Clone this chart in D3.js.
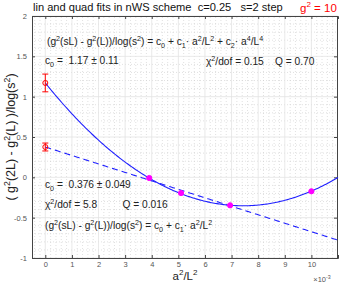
<!DOCTYPE html>
<html>
<head>
<meta charset="utf-8">
<script src="https://cdn.jsdelivr.net/npm/d3@7"></script>
<style>
  body { margin: 0; background: #fff; }
  text { font-family: "Liberation Sans", Arial, sans-serif; white-space: pre; }
</style>
</head>
<body>
<script>
// a^2/L^2 (x 1e-3) for L = 16, 14, 12, 10
const xData = [3.906, 5.102, 6.944, 10.0];
const yData = [-0.008, -0.195, -0.347, -0.173];
const yErr = [0.012, 0.014, 0.014, 0.016];

// extrapolated c0 values at a^2/L^2 = 0
const c0Quad = 1.17, c0QuadErr = 0.11;
const c0Lin = 0.376, c0LinErr = 0.049;

// fit coefficients (x in units of 1e-3)
const quadCoef = [1.17, -0.4098, 0.02757];
const linCoef = [0.376, -0.105];

const xTicks = [0, 1, 2, 3, 4, 5, 6, 7, 8, 9, 10];
const yTicks = [-1, -0.5, 0, 0.5, 1, 1.5, 2];

const W = 339, H = 284;
const svg = d3.select("body").append("svg").attr("width", W).attr("height", H);

const x = d3.scaleLinear().domain([-0.5, 11]).range([32, 338]);
const y = d3.scaleLinear().domain([-1, 2]).range([258, 16]);

// minor grid
const g = svg.append("g");
g.selectAll(".mx").data(d3.range(-0.4, 11.0, 0.2).filter(v => Math.abs(v - Math.round(v)) > 0.01))
  .enter().append("line")
  .attr("x1", d => x(d)).attr("x2", d => x(d)).attr("y1", y(-1)).attr("y2", y(2))
  .attr("stroke", "#ccc").attr("stroke-width", 0.6).attr("stroke-dasharray", "1,2");
g.selectAll(".my").data(d3.range(-0.9, 2.0, 0.1).filter(v => Math.abs(v * 2 - Math.round(v * 2)) > 0.01))
  .enter().append("line")
  .attr("x1", x(-0.5)).attr("x2", x(11)).attr("y1", d => y(d)).attr("y2", d => y(d))
  .attr("stroke", "#ccc").attr("stroke-width", 0.6).attr("stroke-dasharray", "1,2");
// major grid
g.selectAll(".gx").data(xTicks).enter().append("line")
  .attr("x1", d => x(d)).attr("x2", d => x(d)).attr("y1", y(-1)).attr("y2", y(2))
  .attr("stroke", "#e3e3e3").attr("stroke-width", 0.8);
g.selectAll(".gy").data(yTicks).enter().append("line")
  .attr("x1", x(-0.5)).attr("x2", x(11)).attr("y1", d => y(d)).attr("y2", d => y(d))
  .attr("stroke", "#e3e3e3").attr("stroke-width", 0.8);

// axes
const axFont = g => g.selectAll("text").attr("font-size", 7.5).attr("fill", "#555");
svg.append("g").attr("transform", `translate(0,${y(-1)})`)
  .call(d3.axisBottom(x).tickValues(xTicks).tickSize(-3).tickPadding(4).tickFormat(d3.format("d")))
  .call(axFont).call(s => s.select(".domain").attr("stroke", "#444"))
  .call(s => s.selectAll(".tick line").attr("stroke", "#444"));
svg.append("g").attr("transform", `translate(0,${y(2)})`)
  .call(d3.axisTop(x).tickValues(xTicks).tickSize(-3).tickFormat(""))
  .call(s => s.select(".domain").attr("stroke", "#444"))
  .call(s => s.selectAll(".tick line").attr("stroke", "#444"));
svg.append("g").attr("transform", `translate(${x(-0.5)},0)`)
  .call(d3.axisLeft(y).tickValues(yTicks).tickSize(-3).tickPadding(5).tickFormat(d => d))
  .call(axFont).call(s => s.select(".domain").attr("stroke", "#444"))
  .call(s => s.selectAll(".tick line").attr("stroke", "#444"));
svg.append("g").attr("transform", `translate(${x(11) - 1},0)`)
  .call(d3.axisRight(y).tickValues(yTicks).tickSize(-3).tickFormat(""))
  .call(s => s.select(".domain").attr("stroke", "#444"))
  .call(s => s.selectAll(".tick line").attr("stroke", "#444"));

// fit curves
const xs = d3.range(0, 11.001, 0.05);
const line = d3.line().x(d => x(d[0])).y(d => y(d[1]));
svg.append("path")
  .attr("d", line(xs.map(v => [v, quadCoef[0] + quadCoef[1] * v + quadCoef[2] * v * v])))
  .attr("fill", "none").attr("stroke", "#1f1fff").attr("stroke-width", 1.1);
svg.append("path")
  .attr("d", line(xs.map(v => [v, linCoef[0] + linCoef[1] * v])))
  .attr("fill", "none").attr("stroke", "#1f1fff").attr("stroke-width", 1.1)
  .attr("stroke-dasharray", "6,4");

// extrapolated points
const ex = [[0, c0Quad, c0QuadErr], [0, c0Lin, c0LinErr]];
const eg = svg.append("g").selectAll("g").data(ex).enter().append("g");
eg.append("line").attr("x1", d => x(d[0])).attr("x2", d => x(d[0]))
  .attr("y1", d => y(d[1] - d[2])).attr("y2", d => y(d[1] + d[2]))
  .attr("stroke", "red").attr("stroke-width", 1);
eg.append("line").attr("x1", d => x(d[0]) - 3).attr("x2", d => x(d[0]) + 3)
  .attr("y1", d => y(d[1] - d[2])).attr("y2", d => y(d[1] - d[2]))
  .attr("stroke", "red").attr("stroke-width", 1);
eg.append("line").attr("x1", d => x(d[0]) - 3).attr("x2", d => x(d[0]) + 3)
  .attr("y1", d => y(d[1] + d[2])).attr("y2", d => y(d[1] + d[2]))
  .attr("stroke", "red").attr("stroke-width", 1);
eg.append("circle").attr("cx", d => x(d[0])).attr("cy", d => y(d[1])).attr("r", 2.5)
  .attr("fill", "none").attr("stroke", "red").attr("stroke-width", 1);

// data points
const pts = xData.map((v, i) => [v, yData[i], yErr[i]]);
const pg = svg.append("g").selectAll("g").data(pts).enter().append("g");
pg.append("line").attr("x1", d => x(d[0])).attr("x2", d => x(d[0]))
  .attr("y1", d => y(d[1] - d[2])).attr("y2", d => y(d[1] + d[2]))
  .attr("stroke", "#f0f").attr("stroke-width", 1);
pg.append("circle").attr("cx", d => x(d[0])).attr("cy", d => y(d[1])).attr("r", 2.6)
  .attr("fill", "#f0f").attr("stroke", "#f0f");

// rich text: ^{..} superscript, _{..} subscript
function rich(sel, str, size) {
  const parts = str.split(/([\^_]\{[^}]*\})/);
  let cur = 0;
  parts.forEach(p => {
    if (!p) return;
    let off = 0, fs = size, t = p;
    if (p[0] === "^") { off = -size * 0.4; fs = size * 0.7; t = p.slice(2, -1); }
    else if (p[0] === "_") { off = size * 0.3; fs = size * 0.7; t = p.slice(2, -1); }
    sel.append("tspan").attr("dy", off - cur).attr("font-size", fs).text(t);
    cur = off;
  });
}
function txt(px, py, str, size, color, anchor) {
  const t = svg.append("text").attr("x", px).attr("y", py)
    .attr("font-size", size).attr("fill", color || "#222")
    .attr("text-anchor", anchor || "start");
  rich(t, str, size);
  return t;
}

txt(33, 11, "lin and quad fits in nWS scheme  c=0.25   s=2 step", 11.1, "#111");
txt(300, 12, "g^{2} = 10", 11.5, "red");

txt(47, 45, "(g^{2}(sL) - g^{2}(L))/log(s^{2}) = c_{0} + c_{1}· a^{2}/L^{2} + c_{2}· a^{4}/L^{4}", 10.2);
txt(45, 64, "c_{0} =  1.17 ± 0.11", 10.2);
txt(206, 65, "χ^{2}/dof = 0.15    Q = 0.70", 10.2);

txt(45, 188, "c_{0} =  0.376 ± 0.049", 10.2);
txt(45, 208, "χ^{2}/dof = 5.8         Q = 0.016", 10.2);
txt(45, 229, "(g^{2}(sL) - g^{2}(L))/log(s^{2}) = c_{0} + c_{1}· a^{2}/L^{2}", 10.2);

// axis labels
txt(185, 280, "a^{2}/L^{2}", 11.5, "#222", "middle");
txt(322, 282, "×10^{-3}", 7.5, "#555", "middle");
const yl = svg.append("text").attr("transform", `translate(15,${(y(-1) + y(2)) / 2}) rotate(-90)`)
  .attr("text-anchor", "middle").attr("font-size", 12.5).attr("fill", "#222");
rich(yl, "( g^{2}(2L) - g^{2}(L) )/log(s^{2})", 12.5);
</script>
</body>
</html>
